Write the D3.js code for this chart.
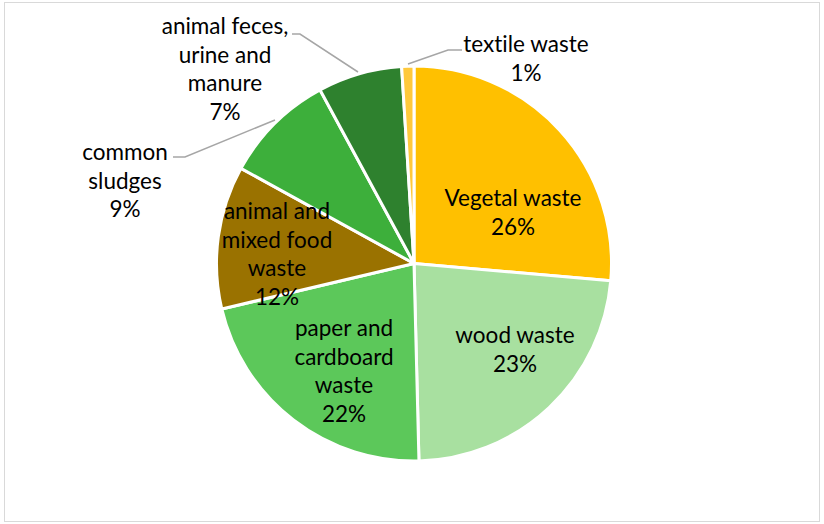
<!DOCTYPE html>
<html>
<head>
<meta charset="utf-8">
<script src="https://cdn.jsdelivr.net/npm/d3@7"></script>
<style>
  html, body { margin: 0; padding: 0; background: #fff; }
  svg { display: block; }
  text { font-family: Lato, "Open Sans", sans-serif; fill: #000; font-variant-ligatures: none; }
</style>
</head>
<body>
<svg id="chart" width="824" height="524"></svg>
<script>
// Waste composition, share of total (%)
const categories = [
  "Vegetal waste",
  "wood waste",
  "paper and cardboard waste",
  "animal and mixed food waste",
  "common sludges",
  "animal feces, urine and manure",
  "textile waste"
];
const values = [26.4, 23.2, 21.7, 11.7, 9.1, 6.9, 1.0];
const colors = ["#FFC000", "#A8E0A0", "#5CC85A", "#9A7200", "#3DAF3B", "#2E812E", "#FFC93C"];

// Label text split into lines, plus where each label block sits
const labelLines = [
  ["Vegetal waste"],
  ["wood waste"],
  ["paper and", "cardboard", "waste"],
  ["animal and", "mixed food", "waste"],
  ["common", "sludges"],
  ["animal feces,", "urine and", "manure"],
  ["textile waste"]
];
const labelPos = [
  [513, 198], [515, 335], [344, 328], [277, 211], [125, 152], [225, 26], [526, 44]
];
// leader lines for the labels placed outside the pie
const leaders = [
  null, null, null, null,
  [[173, 157], [185, 157], [275, 120]],
  [[292, 34], [300, 34], [358, 72]],
  [[462, 50], [448, 50], [408, 64]]
];

const svg = d3.select("#chart");
const W = 824, H = 524;

// chart frame
svg.append("rect")
  .attr("x", 4.5).attr("y", 2.5)
  .attr("width", W - 9).attr("height", H - 5)
  .attr("fill", "#fff")
  .attr("stroke", "#d9d9d9")
  .attr("stroke-width", 1);

const cx = 414, cy = 263.5, r = 197.5;

const pie = d3.pie().sort(null).value(d => d);
const arcs = pie(values);
const arc = d3.arc().innerRadius(0).outerRadius(r);

const g = svg.append("g").attr("transform", `translate(${cx},${cy})`);
g.selectAll("path.slice")
  .data(arcs)
  .join("path")
  .attr("class", "slice")
  .attr("d", arc)
  .attr("fill", (d, i) => colors[i])
  .attr("stroke", "#fff")
  .attr("stroke-width", 3)
  .attr("stroke-linejoin", "round");

// leader lines
svg.selectAll("path.leader")
  .data(leaders.filter(l => l))
  .join("path")
  .attr("class", "leader")
  .attr("d", d => d3.line()(d))
  .attr("fill", "none")
  .attr("stroke", "#a6a6a6")
  .attr("stroke-width", 1.5);

// labels: category name plus its share, rounded to whole percent
const total = d3.sum(values);
const pct = v => Math.round(v / total * 100) + "%";
const lineH = 28.8;
categories.forEach((c, i) => {
  const lines = labelLines[i].concat([pct(values[i])]);
  const [lx, ly] = labelPos[i];
  const t = svg.append("text")
    .attr("text-anchor", "middle")
    .attr("font-size", 22.5);
  lines.forEach((s, k) => {
    t.append("tspan")
      .attr("x", lx)
      .attr("y", ly + k * lineH)
      .attr("dy", "0.35em")
      .text(s);
  });
});
</script>
</body>
</html>
